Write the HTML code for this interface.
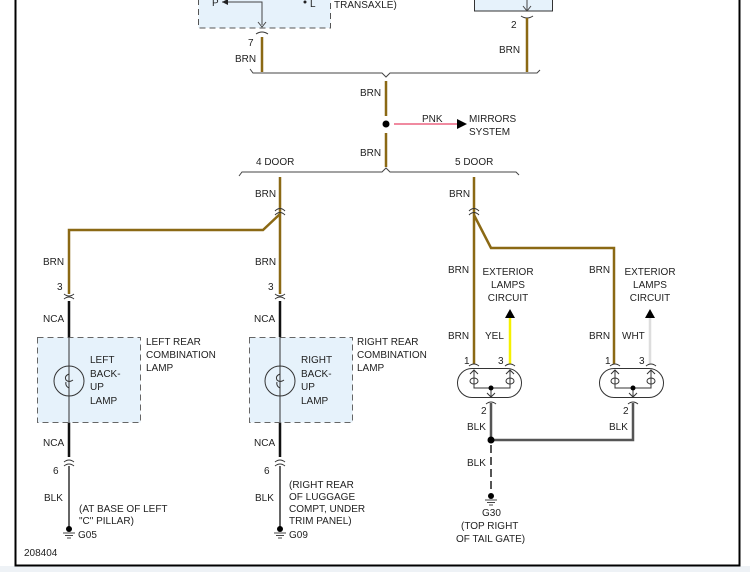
<!DOCTYPE html>
<html><head><meta charset="utf-8"><style>
html,body{margin:0;padding:0;background:#fff}
svg{display:block}
text{font-family:"Liberation Sans",sans-serif;font-size:10px;fill:#222}
</style></head><body>
<svg width="750" height="572" viewBox="0 0 750 572" xmlns="http://www.w3.org/2000/svg">
<rect x="0" y="0" width="750" height="572" fill="#fff"/>
<rect x="0" y="566" width="750" height="6" fill="#eef2f6"/>
<path d="M15.5 0 V565.5 H739.5 V0" fill="none" stroke="#000" stroke-width="2"/>

<!-- top boxes -->
<rect x="198.5" y="-5" width="132" height="33" fill="#e6f2fb" stroke="#555" stroke-dasharray="6,4"/>
<text x="212" y="6">P</text>
<path d="M222 2 H262 V25" fill="none" stroke="#444"/>
<path d="M222 2 l6 -3 v6z" fill="#222"/>
<circle cx="305" cy="2" r="1.5" fill="#222"/>
<text x="310" y="7">L</text>
<path d="M258 22 l4 5 l4 -5" fill="none" stroke="#444"/>
<text x="334" y="8">TRANSAXLE)</text>
<rect x="474.5" y="-5" width="78" height="16" fill="#e6f2fb" stroke="#333"/>
<path d="M527 -5 V10 M523 6 l4 5 l4 -5" fill="none" stroke="#444"/>
<!-- connectors top -->
<path d="M256 34 q6 -4 12 0" fill="none" stroke="#333"/>
<path d="M521 16 q6 4 12 0" fill="none" stroke="#333"/>
<text x="248" y="46">7</text>
<text x="511" y="28">2</text>
<path d="M262 37 V72 M527 18 V72" stroke="#8b6914" stroke-width="2.5"/>
<text x="235" y="62">BRN</text>
<text x="499" y="53">BRN</text>
<!-- bracket 1 -->
<path d="M250 69 l3 4 H382 l4 4 l4 -4 H537 l3 -3" fill="none" stroke="#444"/>
<path d="M386 81 V116 M386 133 V167" stroke="#8b6914" stroke-width="2.5"/>
<text x="360" y="96">BRN</text>
<text x="360" y="156">BRN</text>
<circle cx="386" cy="124" r="3.5" fill="#000"/>
<path d="M394 124 H458" stroke="#f08aa0" stroke-width="2"/>
<path d="M457 119 l10 5 l-10 5z" fill="#000"/>
<text x="422" y="122">PNK</text>
<text x="469" y="122">MIRRORS</text>
<text x="469" y="135">SYSTEM</text>
<!-- bracket 2 -->
<text x="256" y="165">4 DOOR</text>
<text x="455" y="165">5 DOOR</text>
<path d="M239 176 l3 -4 H382 l4 -4 l4 4 H516 l3 3" fill="none" stroke="#444"/>

<!-- 4 door branch -->
<g stroke="#8b6914" stroke-width="2.5" fill="none">
<path d="M280 177 V294"/>
<path d="M280 214 L263 230 H69 V294"/>
<path d="M474 177 V364"/>
<path d="M474 215 L491 248 H614 V364"/>
</g>
<g fill="none" stroke="#333">
<path d="M275 211 q5 -5 10 0 M275 215 q5 -5 10 0"/>
<path d="M469 211 q5 -5 10 0 M469 215 q5 -5 10 0"/>
<path d="M64 294 q5 4 10 0 M64 299 q5 -4 10 0"/>
<path d="M275 294 q5 4 10 0 M275 299 q5 -4 10 0"/>
</g>
<text x="255" y="197">BRN</text>
<text x="43" y="265">BRN</text>
<text x="255" y="265">BRN</text>
<text x="57" y="290">3</text>
<text x="268" y="290">3</text>
<path d="M69 301 V337 M280 301 V337 M69 422 V457 M280 422 V457" stroke="#111" stroke-width="2.5"/>
<text x="43" y="322">NCA</text>
<text x="254" y="322">NCA</text>
<text x="43" y="446">NCA</text>
<text x="254" y="446">NCA</text>

<rect x="37.5" y="337.5" width="103" height="85" fill="#e6f2fb" stroke="#666" stroke-dasharray="6,4"/>
<rect x="249.5" y="337.5" width="103" height="85" fill="#e6f2fb" stroke="#666" stroke-dasharray="6,4"/>
<g fill="none" stroke="#333">
<path d="M69 337 V422 M280 337 V422"/>
<circle cx="69" cy="381" r="15"/>
<circle cx="280" cy="381" r="15"/>
<path d="M69 374 q-5 2 -3 6 q3 3 7 0 M69 388 q-4 -2 -3 -6"/>
<path d="M280 374 q-5 2 -3 6 q3 3 7 0 M280 388 q-4 -2 -3 -6"/>
</g>
<text x="90" y="363">LEFT</text><text x="90" y="377">BACK-</text><text x="90" y="390">UP</text><text x="90" y="404">LAMP</text>
<text x="301" y="363">RIGHT</text><text x="301" y="377">BACK-</text><text x="301" y="390">UP</text><text x="301" y="404">LAMP</text>
<text x="146" y="345">LEFT REAR</text><text x="146" y="358">COMBINATION</text><text x="146" y="371">LAMP</text>
<text x="357" y="345">RIGHT REAR</text><text x="357" y="358">COMBINATION</text><text x="357" y="371">LAMP</text>

<g fill="none" stroke="#333">
<path d="M64 462 q5 -4 10 0 M64 466 q5 -4 10 0"/>
<path d="M275 462 q5 -4 10 0 M275 466 q5 -4 10 0"/>
</g>
<text x="53" y="474">6</text>
<text x="264" y="474">6</text>
<path d="M69 466 V527 M280 466 V527" stroke="#666" stroke-width="2"/>
<text x="44" y="501">BLK</text>
<text x="255" y="501">BLK</text>
<g fill="#000">
<circle cx="69" cy="529" r="3"/><circle cx="280" cy="529" r="3"/><circle cx="491" cy="496" r="3"/>
</g>
<path d="M63 533 H75 M65 535.5 H73 M67 538 H71 M274 533 H286 M276 535.5 H284 M278 538 H282 M485 500 H497 M487 502.5 H495 M489 505 H493" stroke="#444"/>
<text x="78" y="538">G05</text>
<text x="289" y="538">G09</text>
<text x="79" y="512">(AT BASE OF LEFT</text>
<text x="79" y="524">"C" PILLAR)</text>
<text x="289" y="488">(RIGHT REAR</text>
<text x="289" y="500">OF LUGGAGE</text>
<text x="289" y="512">COMPT, UNDER</text>
<text x="289" y="524">TRIM PANEL)</text>

<!-- 5 door -->
<text x="449" y="197">BRN</text>
<text x="448" y="273">BRN</text>
<text x="448" y="339">BRN</text>
<text x="589" y="273">BRN</text>
<text x="589" y="339">BRN</text>
<text x="508" y="275" text-anchor="middle">EXTERIOR</text>
<text x="508" y="288" text-anchor="middle">LAMPS</text>
<text x="508" y="301" text-anchor="middle">CIRCUIT</text>
<text x="650" y="275" text-anchor="middle">EXTERIOR</text>
<text x="650" y="288" text-anchor="middle">LAMPS</text>
<text x="650" y="301" text-anchor="middle">CIRCUIT</text>
<path d="M505 318 l5 -9 l5 9z M645 318 l5 -9 l5 9z" fill="#000"/>
<path d="M510 318 V364" stroke="#f5f000" stroke-width="2.5"/>
<path d="M650 318 V364" stroke="#ddd" stroke-width="2.5"/>
<text x="485" y="339">YEL</text>
<text x="622" y="339">WHT</text>
<text x="464" y="364">1</text><text x="498" y="364">3</text>
<text x="605" y="364">1</text><text x="639" y="364">3</text>
<g fill="none" stroke="#333">
<rect x="457.5" y="368.5" width="64" height="29" rx="14.5"/>
<rect x="599.5" y="368.5" width="64" height="29" rx="14.5"/>
<path d="M469 366 q5 -4 10 0 M505 366 q5 -4 10 0 M610 366 q5 -4 10 0 M646 366 q5 -4 10 0"/>
<path d="M474 370 V388 H510 V370 M470 374 l4 -4 l4 4 M506 374 l4 -4 l4 4"/>
<path d="M615 370 V388 H651 V370 M611 374 l4 -4 l4 4 M647 374 l4 -4 l4 4"/>
<ellipse cx="474" cy="381" rx="4" ry="3"/><ellipse cx="510" cy="381" rx="4" ry="3"/>
<ellipse cx="615" cy="381" rx="4" ry="3"/><ellipse cx="651" cy="381" rx="4" ry="3"/>
<path d="M491 388 V397 M487 393 l4 4 l4 -4 M486 404 q5 -4 10 0"/>
<path d="M633 388 V397 M629 393 l4 4 l4 -4 M628 404 q5 -4 10 0"/>
</g>
<circle cx="491" cy="388" r="2.5" fill="#000"/><circle cx="633" cy="388" r="2.5" fill="#000"/>
<text x="481" y="414">2</text><text x="623" y="414">2</text>
<path d="M491 403 V440 M491 440 H633 V403" fill="none" stroke="#555" stroke-width="2.5"/>
<circle cx="491" cy="440" r="3.5" fill="#000"/>
<text x="467" y="430">BLK</text><text x="609" y="430">BLK</text>
<path d="M491 445 V493" stroke="#555" stroke-width="2" stroke-dasharray="8,4"/>
<text x="467" y="466">BLK</text>
<text x="482" y="516">G30</text>
<text x="461" y="529">(TOP RIGHT</text>
<text x="456" y="542">OF TAIL GATE)</text>
<text x="24" y="556">208404</text>
</svg>
</body></html>
